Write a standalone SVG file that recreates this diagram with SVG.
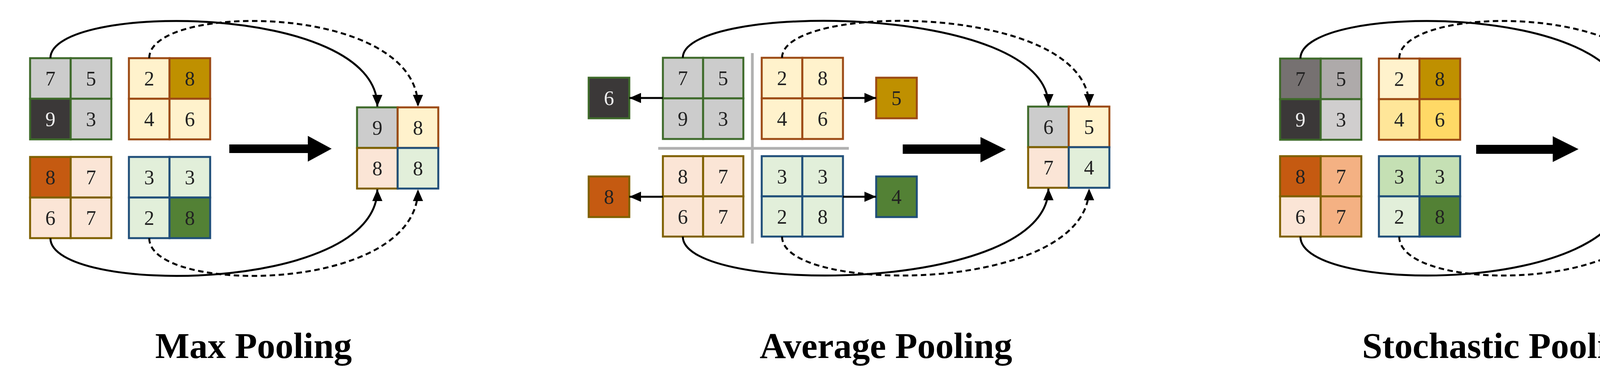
<svg xmlns="http://www.w3.org/2000/svg" width="4357" height="999" viewBox="0 0 4357 999">
<style>
.c{stroke-width:5}
.t{font-family:"Liberation Serif",serif;font-size:52px;fill:#222;text-anchor:middle;dominant-baseline:central}
.w{fill:#eee}
.title{font-family:"Liberation Serif",serif;font-size:93px;font-weight:bold;text-anchor:middle;fill:#000}
.g{stroke:#3e6a2a}.o{stroke:#9c4a14}.y{stroke:#7f6000}.b{stroke:#1f4e79}
.con{fill:none;stroke:#000;stroke-width:5}
.d{stroke-dasharray:14 9}
</style>
<defs>
<marker id="ah" markerUnits="userSpaceOnUse" markerWidth="30" markerHeight="40" refX="30" refY="13" orient="auto" viewBox="0 0 30 26"><path d="M0,0 L30,13 L0,26 z" fill="#000"/></marker>
</defs>
<rect width="4357" height="999" fill="#fff"/>

<!-- Max pooling -->
<g id="max-tl">
<rect x="77" y="149" width="104" height="104" fill="#cccccc" class="g c"/><rect x="181" y="149" width="104" height="104" fill="#cccccc" class="g c"/>
<rect x="77" y="253" width="104" height="104" fill="#3b3838" class="g c"/><rect x="181" y="253" width="104" height="104" fill="#cccccc" class="g c"/>
<text class="t" x="129" y="201">7</text><text class="t" x="233" y="201">5</text><text class="t w" x="129" y="305">9</text><text class="t" x="233" y="305">3</text>
</g>
<g id="max-tr">
<rect x="330" y="149" width="104" height="104" fill="#fff2cc" class="o c"/><rect x="434" y="149" width="104" height="104" fill="#bf9000" class="o c"/>
<rect x="330" y="253" width="104" height="104" fill="#fff2cc" class="o c"/><rect x="434" y="253" width="104" height="104" fill="#fff2cc" class="o c"/>
<text class="t" x="382" y="201">2</text><text class="t" x="486" y="201">8</text><text class="t" x="382" y="305">4</text><text class="t" x="486" y="305">6</text>
</g>
<g id="max-bl">
<rect x="77" y="402" width="104" height="104" fill="#c55a11" class="y c"/><rect x="181" y="402" width="104" height="104" fill="#fbe5d6" class="y c"/>
<rect x="77" y="506" width="104" height="104" fill="#fbe5d6" class="y c"/><rect x="181" y="506" width="104" height="104" fill="#fbe5d6" class="y c"/>
<text class="t" x="129" y="454">8</text><text class="t" x="233" y="454">7</text><text class="t" x="129" y="558">6</text><text class="t" x="233" y="558">7</text>
</g>
<g id="max-br">
<rect x="330" y="402" width="104" height="104" fill="#e2efda" class="b c"/><rect x="434" y="402" width="104" height="104" fill="#e2efda" class="b c"/>
<rect x="330" y="506" width="104" height="104" fill="#e2efda" class="b c"/><rect x="434" y="506" width="104" height="104" fill="#538135" class="b c"/>
<text class="t" x="382" y="454">3</text><text class="t" x="486" y="454">3</text><text class="t" x="382" y="558">2</text><text class="t" x="486" y="558">8</text>
</g>
<g id="max-out">
<rect x="914" y="275" width="104" height="104" fill="#cccccc" class="g c"/><rect x="1018" y="275" width="104" height="104" fill="#fff2cc" class="o c"/>
<rect x="914" y="379" width="104" height="104" fill="#fbe5d6" class="y c"/><rect x="1018" y="379" width="104" height="104" fill="#e2efda" class="b c"/>
<text class="t" x="966" y="327">9</text><text class="t" x="1070" y="327">8</text><text class="t" x="966" y="431">8</text><text class="t" x="1070" y="431">8</text>
</g>
<g id="max-arrow"><polygon points="587,370 788,370 788,348 849,381 788,414 788,392 587,392" fill="#000"/></g>
<text class="title" x="649" y="917">Max Pooling</text>

<!-- Average pooling -->
<g id="avg-cross"><line x1="1926" y1="136" x2="1926" y2="624" stroke="#b0b0b0" stroke-width="7"/><line x1="1685" y1="380" x2="2173" y2="380" stroke="#b0b0b0" stroke-width="7"/></g>
<g id="avg-tl">
<rect x="1697" y="148" width="103" height="104" fill="#cccccc" class="g c"/><rect x="1800" y="148" width="103" height="104" fill="#cccccc" class="g c"/>
<rect x="1697" y="252" width="103" height="104" fill="#cccccc" class="g c"/><rect x="1800" y="252" width="103" height="104" fill="#cccccc" class="g c"/>
<text class="t" x="1748" y="200">7</text><text class="t" x="1851" y="200">5</text><text class="t" x="1748" y="304">9</text><text class="t" x="1851" y="304">3</text>
</g>
<g id="avg-tr">
<rect x="1950" y="148" width="104" height="104" fill="#fff2cc" class="o c"/><rect x="2054" y="148" width="104" height="104" fill="#fff2cc" class="o c"/>
<rect x="1950" y="252" width="104" height="104" fill="#fff2cc" class="o c"/><rect x="2054" y="252" width="104" height="104" fill="#fff2cc" class="o c"/>
<text class="t" x="2002" y="200">2</text><text class="t" x="2106" y="200">8</text><text class="t" x="2002" y="304">4</text><text class="t" x="2106" y="304">6</text>
</g>
<g id="avg-bl">
<rect x="1697" y="400" width="103" height="103" fill="#fbe5d6" class="y c"/><rect x="1800" y="400" width="103" height="103" fill="#fbe5d6" class="y c"/>
<rect x="1697" y="503" width="103" height="103" fill="#fbe5d6" class="y c"/><rect x="1800" y="503" width="103" height="103" fill="#fbe5d6" class="y c"/>
<text class="t" x="1748" y="452">8</text><text class="t" x="1851" y="452">7</text><text class="t" x="1748" y="555">6</text><text class="t" x="1851" y="555">7</text>
</g>
<g id="avg-br">
<rect x="1950" y="400" width="104" height="103" fill="#e2efda" class="b c"/><rect x="2054" y="400" width="104" height="103" fill="#e2efda" class="b c"/>
<rect x="1950" y="503" width="104" height="103" fill="#e2efda" class="b c"/><rect x="2054" y="503" width="104" height="103" fill="#e2efda" class="b c"/>
<text class="t" x="2002" y="452">3</text><text class="t" x="2106" y="452">3</text><text class="t" x="2002" y="555">2</text><text class="t" x="2106" y="555">8</text>
</g>
<g id="avg-6"><rect x="1507" y="199" width="104" height="104" fill="#3b3838" class="g c"/><text class="t w" x="1559" y="251">6</text></g>
<g id="avg-5"><rect x="2243" y="199" width="104" height="104" fill="#bf9000" class="o c"/><text class="t" x="2295" y="251">5</text></g>
<g id="avg-8"><rect x="1507" y="452" width="104" height="104" fill="#c55a11" class="y c"/><text class="t" x="1559" y="504">8</text></g>
<g id="avg-4"><rect x="2243" y="452" width="104" height="104" fill="#538135" class="b c"/><text class="t" x="2295" y="504">4</text></g>
<g id="avg-out">
<rect x="2632" y="273" width="104" height="104" fill="#cccccc" class="g c"/><rect x="2736" y="273" width="104" height="104" fill="#fff2cc" class="o c"/>
<rect x="2632" y="377" width="104" height="104" fill="#fbe5d6" class="y c"/><rect x="2736" y="377" width="104" height="104" fill="#e2efda" class="b c"/>
<text class="t" x="2684" y="325">6</text><text class="t" x="2788" y="325">5</text><text class="t" x="2684" y="429">7</text><text class="t" x="2788" y="429">4</text>
</g>
<g id="avg-arrow"><polygon points="2311,370 2510,370 2510,351 2575,383 2510,416 2510,394 2311,394" fill="#000"/></g>
<text class="title" x="2268" y="917">Average Pooling</text>

<!-- Stochastic pooling -->
<g id="sto-tl">
<rect x="3277" y="150" width="104" height="104" fill="#767171" class="g c"/><rect x="3381" y="150" width="104" height="104" fill="#aeaaaa" class="g c"/>
<rect x="3277" y="254" width="104" height="104" fill="#3b3838" class="g c"/><rect x="3381" y="254" width="104" height="104" fill="#d0cece" class="g c"/>
<text class="t" x="3329" y="202">7</text><text class="t" x="3433" y="202">5</text><text class="t w" x="3329" y="306">9</text><text class="t" x="3433" y="306">3</text>
</g>
<g id="sto-tr">
<rect x="3530" y="150" width="104" height="104" fill="#fff2cc" class="o c"/><rect x="3634" y="150" width="104" height="104" fill="#bf9000" class="o c"/>
<rect x="3530" y="254" width="104" height="104" fill="#ffe699" class="o c"/><rect x="3634" y="254" width="104" height="104" fill="#ffd966" class="o c"/>
<text class="t" x="3582" y="202">2</text><text class="t" x="3686" y="202">8</text><text class="t" x="3582" y="306">4</text><text class="t" x="3686" y="306">6</text>
</g>
<g id="sto-bl">
<rect x="3277" y="400" width="104" height="103" fill="#c55a11" class="y c"/><rect x="3381" y="400" width="104" height="103" fill="#f4b183" class="y c"/>
<rect x="3277" y="503" width="104" height="103" fill="#fbe5d6" class="y c"/><rect x="3381" y="503" width="104" height="103" fill="#f4b183" class="y c"/>
<text class="t" x="3329" y="452">8</text><text class="t" x="3433" y="452">7</text><text class="t" x="3329" y="555">6</text><text class="t" x="3433" y="555">7</text>
</g>
<g id="sto-br">
<rect x="3530" y="400" width="104" height="103" fill="#c5e0b4" class="b c"/><rect x="3634" y="400" width="104" height="103" fill="#c5e0b4" class="b c"/>
<rect x="3530" y="503" width="104" height="103" fill="#e2efda" class="b c"/><rect x="3634" y="503" width="104" height="103" fill="#538135" class="b c"/>
<text class="t" x="3582" y="452">3</text><text class="t" x="3686" y="452">3</text><text class="t" x="3582" y="555">2</text><text class="t" x="3686" y="555">8</text>
</g>
<g id="sto-out">
<rect x="4111" y="273" width="104" height="104" fill="#cccccc" class="g c"/><rect x="4215" y="273" width="104" height="104" fill="#fff2cc" class="o c"/>
<rect x="4111" y="377" width="104" height="104" fill="#fbe5d6" class="y c"/><rect x="4215" y="377" width="104" height="104" fill="#e2efda" class="b c"/>
<text class="t" x="4163" y="325">9</text><text class="t" x="4267" y="325">8</text><text class="t" x="4163" y="429">7</text><text class="t" x="4267" y="429">8</text>
</g>
<g id="sto-arrow"><polygon points="3779,371 3975,371 3975,349 4041,382 3975,415 3975,394 3779,394" fill="#000"/></g>
<text class="title" x="3850" y="917">Stochastic Pooling</text>

<g id="connectors">
<path class="con" d="M129,149 C129,6 966,6 966,273" marker-end="url(#ah)"/>
<path class="con d" d="M382,149 C382,6 1070,6 1070,273" marker-end="url(#ah)"/>
<path class="con" d="M129,610 C129,755 966,755 966,485" marker-end="url(#ah)"/>
<path class="con d" d="M382,610 C382,755 1070,755 1070,485" marker-end="url(#ah)"/>

<path class="con" d="M1748,148 C1748,6 2684,6 2684,271" marker-end="url(#ah)"/>
<path class="con d" d="M2002,148 C2002,6 2788,6 2788,271" marker-end="url(#ah)"/>
<path class="con" d="M1748,606 C1748,755 2684,755 2684,483" marker-end="url(#ah)"/>
<path class="con d" d="M2002,606 C2002,755 2788,755 2788,483" marker-end="url(#ah)"/>
<path class="con" d="M1697,251 L1611,251" marker-end="url(#ah)"/>
<path class="con" d="M2158,251 L2243,251" marker-end="url(#ah)"/>
<path class="con" d="M1697,504 L1611,504" marker-end="url(#ah)"/>
<path class="con" d="M2158,504 L2243,504" marker-end="url(#ah)"/>

<path class="con" d="M3329,150 C3329,6 4163,6 4163,271" marker-end="url(#ah)"/>
<path class="con d" d="M3582,150 C3582,6 4267,6 4267,271" marker-end="url(#ah)"/>
<path class="con" d="M3329,606 C3329,755 4163,755 4163,483" marker-end="url(#ah)"/>
<path class="con d" d="M3582,606 C3582,755 4267,755 4267,483" marker-end="url(#ah)"/>
</g>
</svg>
